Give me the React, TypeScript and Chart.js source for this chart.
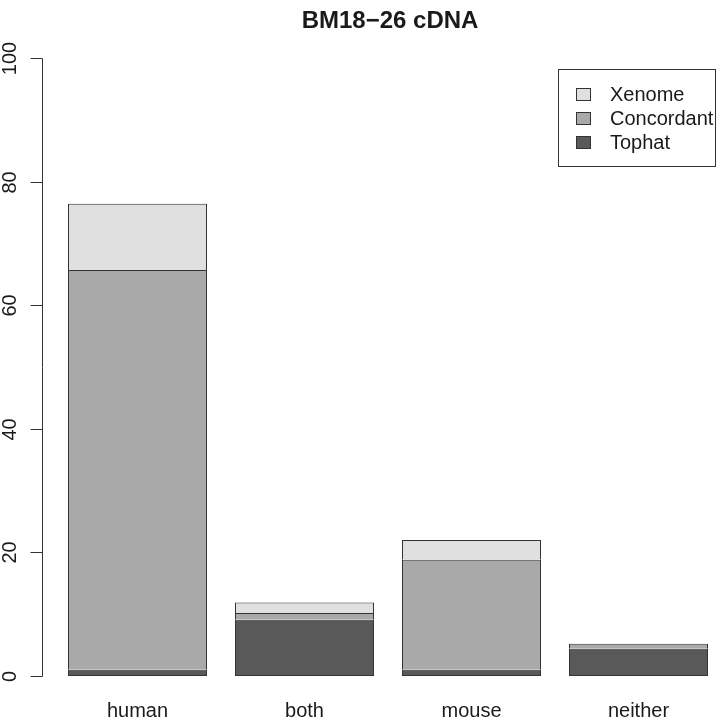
import React, { useEffect, useRef } from "react";
import { Chart, registerables } from "chart.js";

Chart.register(...registerables);

const chartTitle = "BM18−26 cDNA";
const categories = ["human", "both", "mouse", "neither"];
const tophat = [1.0, 9.1, 1.0, 4.4];
const concordant = [64.7, 1.1, 17.8, 0.8];
const xenome = [10.7, 1.7, 3.2, 0];
const yTicks = [0, 20, 40, 60, 80, 100];
const seriesNames = ["Tophat", "Concordant", "Xenome"];
const seriesColors = ["#595959", "#a9a9a9", "#e0e0e0"];

const FONT = "'Liberation Sans', Arial, Helvetica, sans-serif";
const INK = "#1a1a1a";
const LINE = "#333333";

const rStylePlugin = {
  id: "rStyle",
  afterDraw(chart: any) {
    const ctx = chart.ctx as CanvasRenderingContext2D;
    const ys = chart.scales.y;
    const xs = chart.scales.x;
    const area = chart.chartArea;
    const axisX = area.left - 11.5;
    ctx.save();
    ctx.strokeStyle = LINE;
    ctx.lineWidth = 1;
    // y axis line
    const yTop = Math.round(ys.getPixelForValue(yTicks[yTicks.length - 1])) + 0.5;
    const yBot = Math.round(ys.getPixelForValue(yTicks[0])) + 0.5;
    ctx.beginPath();
    ctx.moveTo(axisX, yTop);
    ctx.lineTo(axisX, yBot);
    ctx.stroke();
    // ticks + labels
    ctx.fillStyle = INK;
    ctx.font = `20px ${FONT}`;
    yTicks.forEach((t) => {
      const py = Math.round(ys.getPixelForValue(t)) + 0.5;
      ctx.beginPath();
      ctx.moveTo(axisX - 12, py);
      ctx.lineTo(axisX, py);
      ctx.stroke();
      ctx.save();
      ctx.translate(16, py);
      ctx.rotate(-Math.PI / 2);
      ctx.textAlign = "center";
      ctx.textBaseline = "alphabetic";
      ctx.fillText(String(t), 0, 0);
      ctx.restore();
    });
    // x labels
    ctx.textAlign = "center";
    ctx.textBaseline = "alphabetic";
    categories.forEach((c, i) => {
      ctx.fillText(c, xs.getPixelForValue(i), 717);
    });
    // title
    ctx.font = `bold 24px ${FONT}`;
    ctx.fillText(chartTitle, 390, 28);
    // legend
    const ds = chart.data.datasets;
    ctx.strokeRect(558.5, 69.5, 157, 97);
    ctx.font = `20px ${FONT}`;
    ctx.textAlign = "left";
    ctx.textBaseline = "middle";
    const order = [...ds].reverse();
    order.forEach((d: any, i: number) => {
      const cy = 94 + i * 24;
      ctx.fillStyle = d.backgroundColor;
      ctx.fillRect(576, cy - 6, 14, 12);
      ctx.strokeRect(576.5, cy - 5.5, 14, 12);
      ctx.fillStyle = INK;
      ctx.fillText(d.label, 610, cy + 1);
    });
    ctx.restore();
  },
};

export default function App() {
  const ref = useRef<HTMLCanvasElement>(null);
  useEffect(() => {
    if (!ref.current) return;
    const series = [tophat, concordant, xenome];
    const chart = new Chart(ref.current, {
      type: "bar",
      data: {
        labels: categories,
        datasets: series.map((vals, i) => ({
          label: seriesNames[i],
          data: vals,
          backgroundColor: seriesColors[i],
          borderColor: LINE,
          borderWidth: i === 0 ? { top: 1, left: 1, right: 1, bottom: 1 } : { top: 1, left: 1, right: 1, bottom: 0 },
          borderSkipped: false,
          barPercentage: 139 / 167,
          categoryPercentage: 1,
        })),
      },
      options: {
        animation: false,
        responsive: false,
        devicePixelRatio: 1,
        layout: { padding: { left: 54, right: 0, top: 58, bottom: 44 } },
        plugins: {
          legend: { display: false },
          title: { display: false },
          tooltip: { enabled: false },
        },
        scales: {
          x: { stacked: true, display: false, offset: true },
          y: { stacked: true, display: false, min: 0, max: 100 },
        },
      },
      plugins: [rStylePlugin],
    });
    return () => chart.destroy();
  }, []);
  return (
    <div style={{ position: "fixed", left: 0, top: 0, width: 722, height: 720, background: "#fff" }}>
      <canvas ref={ref} width={722} height={720} style={{ display: "block" }} />
    </div>
  );
}
